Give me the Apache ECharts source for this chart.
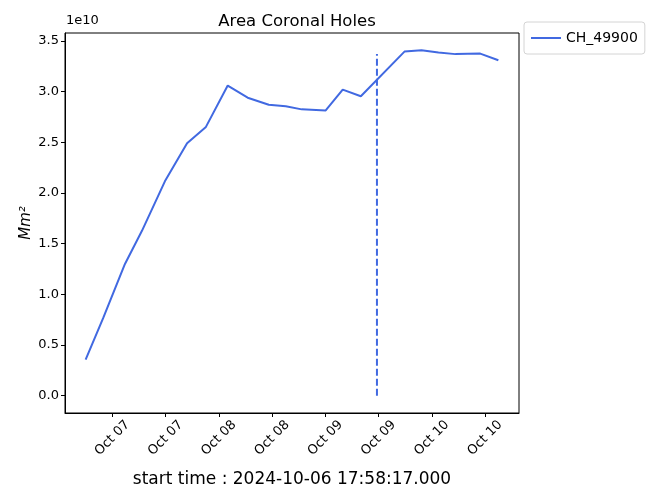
<!DOCTYPE html>
<html>
<head>
<meta charset="utf-8">
<script src="https://cdn.jsdelivr.net/npm/echarts@6/dist/echarts.min.js"></script>
<style>
  html, body { margin: 0; padding: 0; background: #fff; }
  #chart { width: 649px; height: 493px; }
</style>
</head>
<body>
<div id="chart"></div>
<script>
// sample times (UTC) and area values (Mm^2)
const times = [
  '2024-10-06 17:58', '2024-10-06 21:55', '2024-10-07 02:50', '2024-10-07 06:40',
  '2024-10-07 11:50', '2024-10-07 16:50', '2024-10-07 21:05', '2024-10-08 02:00',
  '2024-10-08 06:30', '2024-10-08 11:15', '2024-10-08 15:05', '2024-10-08 18:40',
  '2024-10-09 00:05', '2024-10-09 03:55', '2024-10-09 08:00', '2024-10-09 17:50',
  '2024-10-09 21:40', '2024-10-10 01:30', '2024-10-10 05:20', '2024-10-10 10:55',
  '2024-10-10 15:00'
];
const areas = [
  0.357e10, 0.765e10, 1.30e10, 1.627e10,
  2.115e10, 2.49e10, 2.652e10, 3.06e10,
  2.94e10, 2.87e10, 2.855e10, 2.825e10,
  2.815e10, 3.02e10, 2.955e10, 3.395e10,
  3.408e10, 3.385e10, 3.37e10, 3.375e10,
  3.31e10
];
const markerTime = '2024-10-09 11:38';
const markerRange = [0, 3.37e10];

const xTickTimes = [
  '2024-10-07 00:00', '2024-10-07 12:00', '2024-10-08 00:00', '2024-10-08 12:00',
  '2024-10-09 00:00', '2024-10-09 12:00', '2024-10-10 00:00', '2024-10-10 12:00'
];
const xTickLabels = ['Oct 07', 'Oct 07', 'Oct 08', 'Oct 08', 'Oct 09', 'Oct 09', 'Oct 10', 'Oct 10'];
const yTicks = [0, 0.5e10, 1.0e10, 1.5e10, 2.0e10, 2.5e10, 3.0e10, 3.5e10];

function toMs(s) {
  const [d, t] = s.split(' ');
  const [y, mo, da] = d.split('-').map(Number);
  const [h, mi] = t.split(':').map(Number);
  return Date.UTC(y, mo - 1, da, h, mi);
}

const xs = times.map(toMs);
xs[0] = Date.UTC(2024, 9, 6, 17, 58, 17);
const xTicks = xTickTimes.map(toMs);
const mx = toMs(markerTime);

// matplotlib-like 5% margins
const xSpan = xs[xs.length - 1] - xs[0];
const xMin = xs[0] - 0.05 * xSpan;
const xMax = xs[xs.length - 1] + 0.05 * xSpan;
const yLo = Math.min(0, ...areas, markerRange[0]);
const yHi = Math.max(...areas, markerRange[1]);
const yMin = yLo - 0.05 * (yHi - yLo);
const yMax = yHi + 0.05 * (yHi - yLo);

const font = 'DejaVu Sans';
const chart = echarts.init(document.getElementById('chart'));

chart.setOption({
  animation: false,
  backgroundColor: '#fff',
  textStyle: { fontFamily: font, color: '#000' },
  title: {
    text: 'Area Coronal Holes',
    left: 292,
    textAlign: 'center',
    top: 8,
    textStyle: { fontFamily: font, fontSize: 16.5, fontWeight: 'normal', color: '#000' }
  },
  legend: {
    data: ['CH_49900'],
    left: 524,
    top: 22,
    icon: 'rect',
    padding: [9, 7, 9, 7],
    itemWidth: 30,
    itemHeight: 2,
    itemGap: 4,
    borderColor: '#d4d4d4',
    borderWidth: 1,
    borderRadius: 3,
    textStyle: { fontFamily: font, fontSize: 14, color: '#000' }
  },
  grid: {
    left: 65,
    right: 130,
    top: 33,
    bottom: 79,
    show: true,
    borderColor: '#000',
    borderWidth: 1
  },
  graphic: [{
    type: 'text',
    left: 66,
    top: 14,
    style: { text: '1e10', fontFamily: font, fontSize: 13, fill: '#000' }
  }],
  xAxis: {
    type: 'value',
    min: xMin,
    max: xMax,
    name: 'start time : 2024-10-06 17:58:17.000',
    nameLocation: 'middle',
    nameGap: 58,
    nameMoveOverlap: false,
    nameTextStyle: { fontFamily: font, fontSize: 17, color: '#000' },
    axisLine: { show: true, onZero: false, lineStyle: { color: '#000', width: 1 } },
    axisTick: { show: true, length: 4, customValues: xTicks, lineStyle: { color: '#000' } },
    axisLabel: {
      customValues: xTicks,
      rotate: 45,
      align: 'center',
      verticalAlign: 'middle',
      margin: 25,
      fontFamily: font,
      fontSize: 13,
      color: '#000',
      formatter: (v) => xTickLabels[xTicks.indexOf(v)] || ''
    },
    splitLine: { show: false }
  },
  yAxis: {
    type: 'value',
    min: yMin,
    max: yMax,
    name: 'Mm²',
    nameLocation: 'middle',
    nameGap: 31,
    nameMoveOverlap: false,
    nameTextStyle: { fontFamily: font, fontSize: 15, fontStyle: 'italic', color: '#000' },
    axisLine: { show: true, onZero: false, lineStyle: { color: '#000', width: 1 } },
    axisTick: { show: true, length: 4, customValues: yTicks, lineStyle: { color: '#000' } },
    axisLabel: {
      customValues: yTicks,
      margin: 6,
      fontFamily: font,
      fontSize: 13,
      color: '#000',
      formatter: (v) => (v / 1e10).toFixed(1)
    },
    splitLine: { show: false }
  },
  series: [
    {
      name: 'CH_49900',
      type: 'line',
      symbol: 'none',
      data: xs.map((x, i) => [x, areas[i]]),
      lineStyle: { color: '#4169e1', width: 2 },
      itemStyle: { color: '#4169e1' }
    },
    {
      name: 'marker',
      type: 'line',
      symbol: 'none',
      data: markerRange.map((v) => [mx, v]),
      lineStyle: { color: '#4169e1', width: 2, type: [7, 3] },
      itemStyle: { color: '#4169e1' }
    }
  ]
});
</script>
</body>
</html>
